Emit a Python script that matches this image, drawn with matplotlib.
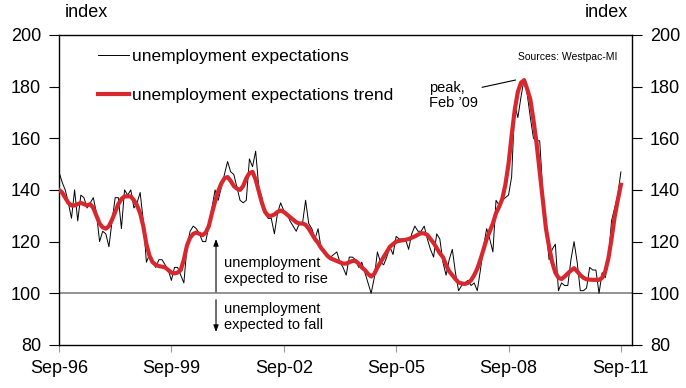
import numpy as np
import matplotlib
matplotlib.use("Agg")
import matplotlib.pyplot as plt

plt.rcParams['font.family'] = ['Liberation Sans', 'DejaVu Sans']

# monthly index values, Sep-96 .. Sep-11
expectations = [
    147, 143, 140, 135, 129, 140, 128, 138, 137, 133, 135, 137,
    131, 120, 124, 123, 118, 128, 137, 137, 125, 140, 138, 140,
    133, 135, 139, 128, 112, 115, 112, 110, 113, 113, 111, 109,
    105, 110, 110, 107, 104, 118, 124, 126, 125, 123, 120, 120,
    126, 133, 140, 136, 141, 146, 151, 147, 146, 141, 136, 135,
    136, 152, 149, 155, 141, 137, 131, 129, 129, 123, 131, 135,
    132, 131, 128, 126, 124, 127, 127, 136, 127, 125, 121, 125,
    117, 116, 115, 114, 115, 116, 112, 110, 107, 114, 114, 113,
    110, 112, 108, 104, 100, 106, 116, 112, 111, 114, 118, 115,
    122, 121, 121, 121, 117, 123, 126, 124, 124, 126, 121, 117,
    114, 123, 121, 112, 107, 113, 117, 108, 101, 103, 104, 105,
    103, 104, 101, 109, 118, 125, 121, 116, 136, 134, 136, 137,
    138, 145, 173, 168, 176, 183, 177, 168, 160, 159, 159, 139,
    125, 113, 117, 119, 101, 104, 103, 103, 113, 120, 112, 101,
    101, 102, 110, 109, 109, 100, 108, 106, 113, 128, 133, 138,
    147,
]

trend = [
    140, 139, 137, 135, 134, 134, 134.5, 135, 134.5, 134, 134.5, 133,
    130, 127, 125.5, 125, 126, 128.5, 131.5, 134.5, 136.5, 137.5, 137.5, 137.5,
    136, 134, 131, 126, 119, 114.5, 112, 111, 110.5, 110.3, 110, 109,
    108, 107.7, 108, 109, 113, 118.5, 121.5, 123, 123.5, 123, 122.5, 123.5,
    126, 131, 135.5, 139.5, 142.5, 144.5, 145, 143.5, 141.5, 140.5, 140, 141.5,
    144.5, 146.5, 147, 144, 139.5, 135, 131.5, 130, 130, 130.5, 131.5, 132,
    131.5, 130.5, 129.5, 128.5, 127.5, 127, 127, 126.5, 125, 123, 121, 119.5,
    117.5, 116, 114.5, 113.5, 113, 112.5, 112, 111.5, 111.5, 112, 112.5, 112.5,
    111.5, 110, 109, 107.5, 106.5, 107.5, 110, 112, 114, 116, 118, 119,
    120, 120.3, 120.5, 120.7, 121, 121.5, 122, 122.7, 123.2, 123.2, 122.6, 121,
    119.5, 117.5, 115.5, 114, 111, 108.5, 107, 105.5, 104.2, 103.8, 103.6, 104,
    105, 107, 109.5, 113, 117, 121, 124, 127, 131, 133.5, 136.5, 142,
    150, 161, 171, 178, 181.5, 182.5, 179, 175, 167, 158, 147, 136,
    125, 118, 112, 108, 106, 105.5, 106.5, 107.7, 108.8, 109.7, 108.5, 107,
    106, 105.4, 105.3, 105.2, 105.2, 105.2, 106, 108.5, 113.5, 121, 129.5, 136,
    142,
]

tick_pos = [0, 36, 72, 108, 144, 180]
tick_labels = ['Sep-96', 'Sep-99', 'Sep-02', 'Sep-05', 'Sep-08', 'Sep-11']
y_ticks = [80, 100, 120, 140, 160, 180, 200]

months = np.arange(len(expectations))

fig = plt.figure(figsize=(6.86, 3.88), dpi=100)
ax = fig.add_axes([0.086, 0.111, 0.835, 0.799])

ax.axhline(100, color='#808080', lw=1.2, zorder=1)
ax.plot(months, expectations, color='black', lw=0.7, zorder=2,
        label='unemployment expectations')
ax.plot(months, trend, color='#d7282f', lw=3, zorder=3,
        label='unemployment expectations trend')

ax.set_xlim(0, 183.5)
ax.set_ylim(80, 200)
ax.set_xticks(tick_pos)
ax.set_xticklabels(tick_labels)
ax.set_yticks(y_ticks)
ax.tick_params(axis='y', direction='out', length=7, labelsize=13,
               left=True, right=True, labelleft=True, labelright=True, pad=6)
ax.tick_params(axis='x', direction='out', length=5, labelsize=13,
               color='#999999', pad=6)
for s in ax.spines.values():
    s.set_linewidth(1)

fig.text(0.095, 0.945, 'index', fontsize=13, ha='left', va='bottom')
fig.text(0.916, 0.945, 'index', fontsize=13, ha='right', va='bottom')

leg = ax.legend(loc='upper left', bbox_to_anchor=(0.04, 1.005), frameon=False,
                fontsize=12.5, handlelength=1.8, handletextpad=0.2,
                labelspacing=1.35)

ax.text(0.975, 0.93, 'Sources: Westpac-MI', transform=ax.transAxes,
        fontsize=7.5, ha='right', va='center')

ax.annotate('peak,\nFeb \u201909', xy=(148, 183), xytext=(118.5, 176.5),
            fontsize=10.5, ha='left', va='center', linespacing=1.15,
            arrowprops=dict(arrowstyle='-', color='black', lw=0.8,
                            shrinkA=1, shrinkB=4,
                            relpos=(1.0, 0.75)))

ax.annotate('', xy=(50.3, 121), xytext=(50.3, 100.5),
            arrowprops=dict(arrowstyle='-|>,head_width=0.15,head_length=0.4',
                            color='black', lw=0.8, shrinkA=0, shrinkB=0))
ax.annotate('', xy=(50.3, 85), xytext=(50.3, 97.5),
            arrowprops=dict(arrowstyle='-|>,head_width=0.15,head_length=0.4',
                            color='black', lw=0.8, shrinkA=0, shrinkB=0))
ax.text(53, 108.7, 'unemployment\nexpected to rise', fontsize=10.5,
        ha='left', va='center', linespacing=1.15)
ax.text(53, 90.7, 'unemployment\nexpected to fall', fontsize=10.5,
        ha='left', va='center', linespacing=1.15)

fig.savefig('out.png', dpi=100)
